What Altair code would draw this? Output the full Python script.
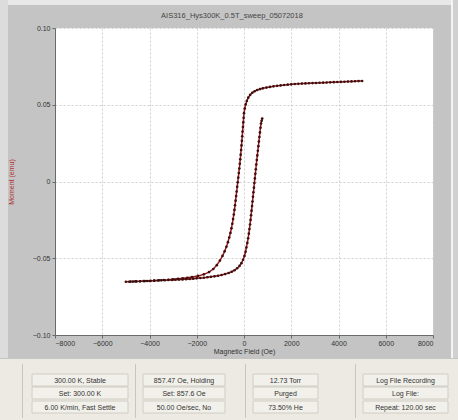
import altair as alt
import pandas as pd

# ---- data: descending branch (H from +5000 to -5000) ----
desc_H = [5000, 4850, 4700, 4550, 4400, 4250, 4100, 3950, 3800, 3650, 3500, 3350, 3200, 3050,
          2900, 2750, 2600, 2450, 2300, 2150, 2000, 1850, 1700, 1550, 1400, 1250, 1100, 950,
          800, 680, 560, 450, 350, 260, 180, 120, 70, 30, 0, -15, -30, -45, -60, -75, -90,
          -105, -122, -140, -158, -178, -198, -220, -242, -265, -288, -310, -333, -356, -380,
          -405, -432, -462, -495, -532, -575, -625, -680, -745, -820, -910, -1020, -1150, -1300,
          -1480, -1700, -1950, -2200, -2400, -2600, -2800, -3000, -3200, -3400, -3600, -3800,
          -4000, -4200, -4400, -4600, -4800, -5000]
desc_M = [0.0655, 0.0654, 0.0653, 0.0652, 0.0651, 0.0650, 0.0649, 0.0648, 0.0647, 0.0646, 0.0645,
          0.0644, 0.0643, 0.0642, 0.0641, 0.0640, 0.0639, 0.0638, 0.0636, 0.0635, 0.0633, 0.0631,
          0.0629, 0.0626, 0.0623, 0.0620, 0.0616, 0.0612, 0.0607, 0.0602, 0.0596, 0.0588, 0.0578,
          0.0564, 0.0546, 0.0525, 0.0502, 0.0475, 0.0445, 0.0415, 0.0385, 0.0355, 0.0325, 0.0295,
          0.0265, 0.0235, 0.0205, 0.0175, 0.0145, 0.0115, 0.0085, 0.0055, 0.0025, -0.0005, -0.0035,
          -0.0065, -0.0095, -0.0125, -0.0155, -0.0185, -0.0215, -0.0245, -0.0275, -0.0305, -0.0335,
          -0.0365, -0.0395, -0.0425, -0.0455, -0.0485, -0.0515, -0.0545, -0.0570, -0.0590, -0.0605,
          -0.0615, -0.0622, -0.0627, -0.0631, -0.0634, -0.0637, -0.0640, -0.0642, -0.0644, -0.0646,
          -0.0648, -0.0649, -0.0650, -0.0651, -0.0652, -0.0653]

# ---- data: ascending branch (H from -5000 up to ~ +800) ----
asc_H = [-4850, -4700, -4550, -4400, -4250, -4100, -3950, -3800, -3650, -3500, -3350, -3200,
         -3050, -2900, -2750, -2600, -2450, -2300, -2150, -2000, -1850, -1700, -1550, -1400,
         -1250, -1100, -950, -800, -650, -520, -400, -290, -190, -110, -40, 20, 65, 100, 140,
         175, 205, 230, 255, 278, 300, 320, 340, 360, 380, 400, 420, 440, 460, 480, 500, 520,
         542, 564, 586, 608, 630, 652, 674, 697, 720, 745, 770]
asc_M = [-0.0653, -0.0652, -0.0651, -0.0650, -0.0649, -0.0648, -0.0647, -0.0646, -0.0645, -0.0644,
         -0.0643, -0.0642, -0.0641, -0.0640, -0.0639, -0.0638, -0.0636, -0.0635, -0.0633, -0.0631,
         -0.0629, -0.0627, -0.0624, -0.0621, -0.0618, -0.0614, -0.0609, -0.0603, -0.0596, -0.0588,
         -0.0578, -0.0565, -0.0550, -0.0532, -0.0510, -0.0485, -0.0458, -0.0430, -0.0400, -0.0370,
         -0.0340, -0.0310, -0.0280, -0.0250, -0.0220, -0.0190, -0.0160, -0.0130, -0.0100, -0.0070,
         -0.0040, -0.0010, 0.0020, 0.0050, 0.0080, 0.0110, 0.0140, 0.0170, 0.0200, 0.0230, 0.0260,
         0.0290, 0.0320, 0.0350, 0.0378, 0.0395, 0.0410]

title_text = "AIS316_Hys300K_0.5T_sweep_05072018"
x_ticks = [-8000, -6000, -4000, -2000, 0, 2000, 4000, 6000, 8000]
y_ticks = [-0.10, -0.05, 0, 0.05, 0.10]

status_cols = [
    ["300.00 K, Stable", "Set: 300.00 K", "6.00 K/min, Fast Settle"],
    ["857.47 Oe, Holding", "Set: 857.6 Oe", "50.00 Oe/sec, No"],
    ["12.73 Torr", "Purged", "73.50% He"],
    ["Log File Recording", "Log File:", "Repeat: 120.00 sec"],
]

H = desc_H + asc_H
M = desc_M + asc_M
df = pd.DataFrame({"H": H, "M": M, "i": list(range(len(H)))})

W, Hh = 378, 307
OX, OY = 55, 28  # plot origin on the page

FONT = "Liberation Sans"

xenc = alt.X("H:Q", scale=alt.Scale(domain=[-8000, 8000], nice=False),
             axis=alt.Axis(values=x_ticks, title="Magnetic Field (Oe)", format="d",
                           gridDash=[2, 2], gridColor="#d0d0d0", tickSize=3,
                           labelFontSize=7, titleFontSize=7, titleFontWeight="normal",
                           labelColor="#333333", titleColor="#333333", titlePadding=1,
                           domainColor="#6a6a6a", tickColor="#6a6a6a", labelPadding=1))
yenc = alt.Y("M:Q", scale=alt.Scale(domain=[-0.10, 0.10], nice=False),
             axis=alt.Axis(values=y_ticks, title="Moment (emu)",
                           labelExpr="datum.value == 0 ? '0' : format(datum.value, '.2f')",
                           gridDash=[2, 2], gridColor="#d0d0d0", tickSize=3,
                           labelFontSize=7, titleFontSize=7, titleFontWeight="normal",
                           labelColor="#333333", titleColor="#b03030", titlePadding=18,
                           domainColor="#6a6a6a", tickColor="#6a6a6a", labelPadding=2))

line = alt.Chart(df).mark_line(color="#a01818", strokeWidth=1.5).encode(
    x=xenc, y=yenc, order="i:Q")
pts = alt.Chart(df).mark_circle(color="#3a1010", size=7, opacity=1).encode(
    x="H:Q", y="M:Q")

one = alt.Data(values=[{}])
layers = [line, pts]

def rect(x1, y1, x2, y2, fill, stroke=None):
    kw = dict(fill=fill)
    if stroke:
        kw["stroke"] = stroke
        kw["strokeWidth"] = 0.8
    return alt.Chart(one).mark_rect(**kw).encode(
        x=alt.value(x1 - OX), x2=alt.value(x2 - OX),
        y=alt.value(y1 - OY), y2=alt.value(y2 - OY))

def text(s, x, y, size=7, color="#333333", align="center"):
    return alt.Chart(one).mark_text(text=s, font=FONT, fontSize=size, color=color,
                                    align=align, baseline="middle").encode(
        x=alt.value(x - OX), y=alt.value(y - OY))

# page chrome: light strips around grey frame
layers.append(rect(0, 0, 458, 5, "#e8e8e8"))
layers.append(rect(0, 0, 8, 358, "#dcdcdc"))
layers.append(rect(451, 0, 453, 358, "#f4f4f4"))
layers.append(rect(453, 0, 458, 358, "#d0d0d0"))
# status panel
layers.append(rect(0, 359, 458, 420, "#eceae2"))
box_x = [(32, 128), (143, 225), (253, 318), (363, 448)]
row_y = [(374, 386), (387, 399), (401, 413)]
sep_x = [22, 135, 245, 355]
for sx in sep_x:
    layers.append(rect(sx, 364, sx + 1, 418, "#c8c6bc"))
for (bx1, bx2), col in zip(box_x, status_cols):
    for (ry1, ry2), s in zip(row_y, col):
        layers.append(rect(bx1, ry1, bx2, ry2, "#f1f0ea", "#c9c7bd"))
        layers.append(text(s, (bx1 + bx2) / 2, (ry1 + ry2) / 2 + 0.5))
# title
layers.append(text(title_text, 232, 16, size=7.5, color="#444444"))

chart = alt.layer(*layers).properties(
    width=W, height=Hh,
    autosize=alt.AutoSizeParams(type="none"),
    padding={"left": OX, "top": OY, "right": 458 - OX - W, "bottom": 420 - OY - Hh},
    background="#c4c4c4",
).configure_view(fill="white", stroke=None).configure_axis(
    labelFont=FONT, titleFont=FONT)

chart.save("out.html", embed_options={"renderer": "svg", "actions": False})
